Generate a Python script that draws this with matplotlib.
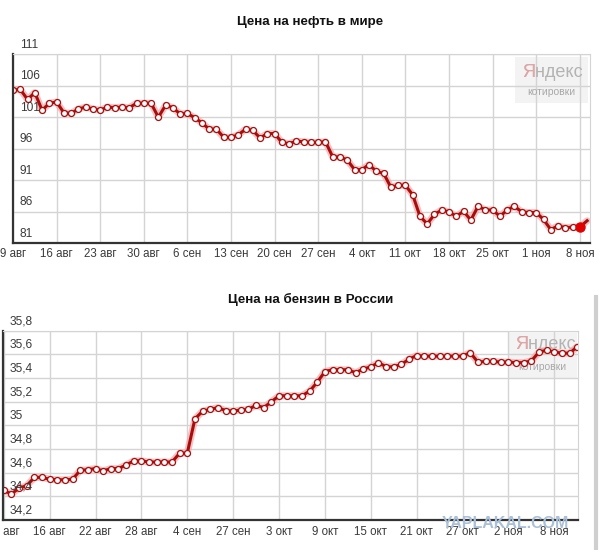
import numpy as np
import matplotlib.pyplot as plt
from matplotlib.lines import Line2D

plt.rcParams['font.family'] = ['Liberation Sans', 'DejaVu Sans']

# oil price, one point per trading day (6 points per tick interval)
oil_labels = ['9 авг', '16 авг', '23 авг', '30 авг', '6 сен', '13 сен', '20 сен',
              '27 сен', '4 окт', '11 окт', '18 окт', '25 окт', '1 ноя', '8 ноя']
oil_values = [105.3, 105.4, 103.8, 104.9, 102.1, 103.2, 103.4, 101.7, 101.6, 102.3,
              102.6, 102.3, 102.1, 102.6, 102.5, 102.6, 102.5, 103.2, 103.2, 103.2,
              101.0, 102.9, 102.5, 101.5, 101.6, 100.9, 100.1, 99.1, 99.1, 97.8,
              97.8, 98.2, 99.1, 98.9, 97.7, 98.4, 98.4, 97.0, 96.8, 97.2,
              97.1, 97.0, 97.0, 97.1, 94.7, 94.7, 94.2, 92.7, 92.7, 93.5,
              92.4, 92.1, 89.9, 90.2, 90.2, 88.7, 85.3, 84.1, 85.6, 86.3,
              86.0, 85.3, 86.1, 84.7, 86.9, 86.3, 86.3, 85.3, 86.3, 86.9,
              86.0, 85.9, 85.9, 84.8, 83.2, 83.8, 83.5, 83.6, 83.6, 84.6]
oil_yticks = [81, 86, 91, 96, 101, 106, 111]

# petrol price in Russia
gas_labels = ['10 авг', '16 авг', '22 авг', '28 авг', '4 сен', '27 сен', '3 окт',
              '9 окт', '15 окт', '21 окт', '27 окт', '2 ноя', '8 ноя']
gas_values = [34.45, 34.42, 34.47, 34.49, 34.56, 34.56, 34.545, 34.54, 34.54, 34.545,
              34.62, 34.625, 34.635, 34.615, 34.635, 34.635, 34.665, 34.70, 34.70, 34.69,
              34.69, 34.69, 34.69, 34.765, 34.765, 35.055, 35.12, 35.135, 35.15, 35.125,
              35.12, 35.13, 35.135, 35.17, 35.15, 35.20, 35.25, 35.25, 35.25, 35.25,
              35.29, 35.365, 35.455, 35.47, 35.47, 35.47, 35.445, 35.475, 35.495, 35.53,
              35.495, 35.495, 35.515, 35.56, 35.59, 35.585, 35.585, 35.585, 35.585, 35.585,
              35.585, 35.615, 35.535, 35.54, 35.54, 35.535, 35.535, 35.53, 35.53, 35.545,
              35.62, 35.635, 35.62, 35.61, 35.61, 35.665]
gas_yticks = [34.2, 34.4, 34.6, 34.8, 35.0, 35.2, 35.4, 35.6, 35.8]

LINE = '#a80d0d'
GRID = '#d4d4d4'
TXT = '#3a3a3a'


def style_axes(ax, yticks, ylabels, xlabels, pad):
    ax.set_xticks(np.arange(len(xlabels)) * 6)
    ax.set_xticklabels(xlabels, fontsize=8.3, color=TXT)
    ax.set_yticks(yticks)
    ax.set_yticklabels([])
    ax.tick_params(axis='both', length=0)
    ax.tick_params(axis='x', pad=pad)
    ax.grid(True, color=GRID, linewidth=1)
    ax.set_axisbelow(True)
    for s in ['top', 'right']:
        ax.spines[s].set_color(GRID)
    for s in ['left', 'bottom']:
        ax.spines[s].set_color('#333333')
        ax.spines[s].set_linewidth(1.6)
    tr = ax.get_yaxis_transform()
    for v, lab in zip(yticks, ylabels):
        ax.annotate(lab, (0, v), xycoords=tr, xytext=(5, 2.5),
                    textcoords='offset points', ha='left', va='bottom',
                    fontsize=8.6, color=TXT, clip_on=False)


def draw_series(ax, x, y, n_markers):
    ax.plot(x, y, color='#f2a8a8', linewidth=5, alpha=0.7, solid_capstyle='round')
    ax.plot(x, y, color=LINE, linewidth=2.2)
    ax.plot(x[:n_markers], y[:n_markers], linestyle='none', marker='o', markersize=4.3,
            markerfacecolor='white', markeredgecolor=LINE, markeredgewidth=0.9)


def yandex_mark(ax, box, x0, y_word, y_small):
    ax.add_patch(plt.Rectangle(box[:2], box[2], box[3], transform=ax.transAxes,
                               facecolor='#f3f3f3', edgecolor='none', zorder=0.5))
    ax.text(x0, y_word, 'Яндекс', transform=ax.transAxes, ha='left', va='center',
            fontsize=13, color='#b3b3b3', zorder=0.6)
    ax.text(x0, y_word, 'Я', transform=ax.transAxes, ha='left', va='center',
            fontsize=13, color='#e6a3a3', zorder=0.7)
    ax.text(box[0] + box[2] / 2, y_small, 'котировки', transform=ax.transAxes,
            ha='center', va='center', fontsize=7.5, color='#a8a8a8', zorder=0.6)


fig = plt.figure(figsize=(5.99, 5.5), dpi=100)

# top chart: oil
ax1 = fig.add_axes([0.0217, 0.5573, 0.9633, 0.3445])
xo = np.arange(len(oil_values))
yandex_mark(ax1, (0.87, 0.742, 0.127, 0.242), 0.883, 0.9, 0.8)
draw_series(ax1, xo, oil_values, len(oil_values) - 1)
ax1.plot(xo[-2], oil_values[-2], 'o', color='#e00000', markersize=6.5)
ax1.set_xlim(0, 79.4)
ax1.set_ylim(81, 111)
style_axes(ax1, oil_yticks, [str(v) for v in oil_yticks], oil_labels, 3)
fig.text(0.518, 0.96, 'Цена на нефть в мире', ha='center', va='center',
         fontsize=9.6, fontweight='bold', color='#111111')

# bottom chart: petrol
ax2 = fig.add_axes([0.005, 0.0545, 0.96, 0.3442])
xg = np.arange(len(gas_values))
ax2.set_xlim(-0.1, 75.1)
ax2.set_ylim(34.2, 35.8)
yandex_mark(ax2, (0.878, 0.75, 0.12, 0.24), 0.89, 0.925, 0.81)
draw_series(ax2, xg, gas_values, len(gas_values))
style_axes(ax2, gas_yticks, [f'{v:g}'.replace('.', ',') for v in gas_yticks],
           gas_labels, 4)
fig.text(0.518, 0.455, 'Цена на бензин в России', ha='center', va='center',
         fontsize=9.6, fontweight='bold', color='#111111')

fig.text(0.843, 0.048, 'YAPLAKAL.COM', ha='center', va='center', fontsize=11.5,
         fontweight='bold', color='#a9c0d8', zorder=10)
fig.add_artist(Line2D([0.995, 0.995], [0.0, 0.46], color='#cfcfcf', linewidth=3))

fig.savefig('out.png', dpi=100)
